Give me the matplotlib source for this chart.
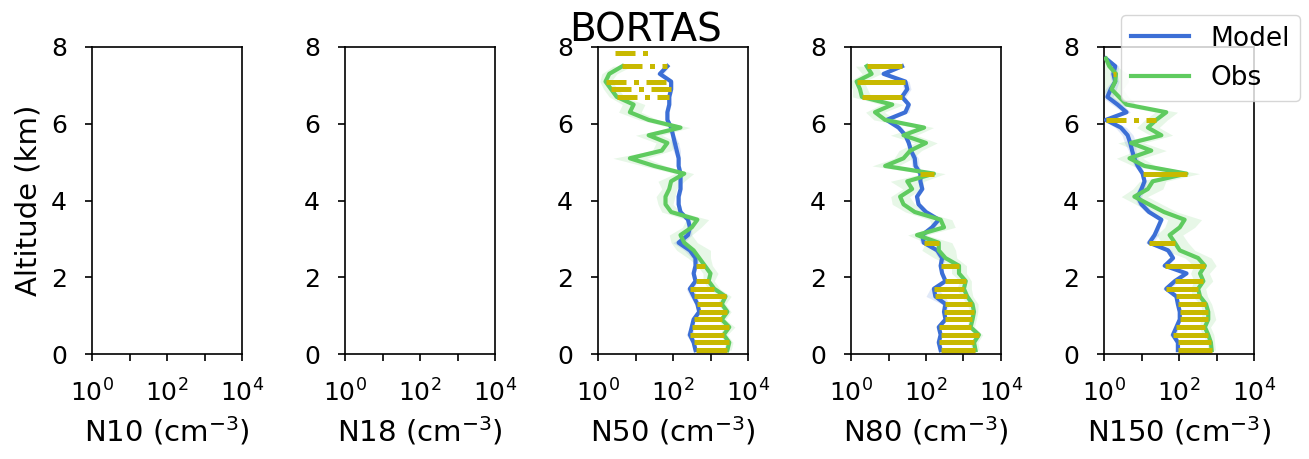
import matplotlib
matplotlib.use("Agg")
import matplotlib.pyplot as plt
from matplotlib.lines import Line2D
import numpy as np

# --------------------------------------------------------------------
# Data (log10 of number concentration, cm-3) on altitude levels (km)
# --------------------------------------------------------------------
alt = [0.1, 0.3, 0.5, 0.7, 0.9, 1.1, 1.3, 1.5, 1.7, 1.9,
       2.1, 2.3, 2.5, 2.7, 2.9, 3.1, 3.3, 3.5, 3.7, 3.9,
       4.1, 4.3, 4.5, 4.7, 4.9, 5.1, 5.3, 5.5, 5.7, 5.9,
       6.1, 6.3, 6.5, 6.7, 6.9, 7.1, 7.3, 7.5, 7.7, 7.9]

panels = ["N10", "N18", "N50", "N80", "N150"]

nan = np.nan

n50_model = [2.60, 2.55, 2.45, 2.50, 2.55, 2.70, 2.65, 2.55, 2.45, 2.60,
             2.55, 2.60, 2.60, 2.45, 2.15, 2.40, 2.45, 2.40, 2.20, 2.15,
             2.15, 2.20, 2.20, 2.20, 2.15, 2.15, 2.10, 2.05, 2.00, 1.95,
             1.85, 1.85, 1.90, 1.90, 1.95, 1.95, 1.65, 1.85, nan, nan]
n50_obs = [3.45, 3.50, 3.35, 3.50, 3.30, 3.45, 3.30, 3.40, 3.10, 2.95,
           3.00, 2.85, 2.70, 2.55, 2.30, 2.20, 2.50, 2.65, 1.95, 1.80,
           1.80, 1.90, 1.95, 2.30, 1.50, 0.85, 1.70, 1.85, 1.35, 2.20,
           1.35, 0.85, 0.95, 0.50, 0.35, 0.20, 0.30, 0.65, nan, nan]
n50_obs_err = [0.10, 0.10, 0.10, 0.15, 0.10, 0.10, 0.10, 0.15, 0.15, 0.15,
               0.20, 0.20, 0.30, 0.45, 0.35, 0.30, 0.25, 0.30, 0.25, 0.20,
               0.25, 0.20, 0.35, 0.25, 0.30, 0.45, 0.25, 0.30, 0.35, 0.25,
               0.25, 0.30, 0.30, 0.20, 0.20, 0.15, 0.20, 0.25, nan, nan]
n50_model_err = [0.05, 0.05, 0.10, 0.05, 0.05, 0.05, 0.05, 0.10, 0.10, 0.05,
                 0.05, 0.05, 0.10, 0.15, 0.15, 0.10, 0.05, 0.05, 0.05, 0.05,
                 0.05, 0.05, 0.05, 0.05, 0.05, 0.05, 0.10, 0.10, 0.05, 0.05,
                 0.05, 0.05, 0.05, 0.05, 0.05, 0.05, 0.10, 0.05, nan, nan]
n50_flag = [0.1, 0.3, 0.5, 0.7, 0.9, 1.1, 1.3, 1.5, 1.7, 1.9, 2.3]
n50_flag_dashed = [6.7, 6.9, 7.1, 7.5]
n50_extra = [(7.85, 0.45, 1.5)]

n80_model = [2.39, 2.34, 2.39, 2.34, 2.52, 2.48, 2.52, 2.25, 2.21, 2.52,
             2.43, 2.39, 2.43, 2.30, 1.94, 1.90, 2.16, 2.34, 2.00, 1.80,
             1.76, 1.90, 1.85, 1.85, 1.72, 1.70, 1.60, 1.54, 1.45, 1.27,
             0.95, 1.45, 1.54, 1.36, 1.50, 1.45, 0.87, 1.36, nan, nan]
n80_obs = [3.32, 3.28, 3.41, 3.19, 3.24, 3.28, 3.24, 3.10, 3.01, 3.06,
           2.88, 2.88, 2.52, 2.34, 2.34, 1.76, 2.48, 2.39, 1.70, 1.40,
           1.31, 1.63, 1.50, 2.21, 0.91, 1.40, 1.58, 2.00, 1.40, 1.95,
           0.91, 0.64, 1.10, 0.29, 0.24, 0.15, 0.55, 0.42, nan, nan]
n80_obs_err = [0.10, 0.10, 0.10, 0.10, 0.10, 0.10, 0.15, 0.15, 0.20, 0.15,
               0.20, 0.20, 0.30, 0.45, 0.35, 0.25, 0.30, 0.30, 0.25, 0.30,
               0.25, 0.25, 0.45, 0.30, 0.35, 0.25, 0.30, 0.30, 0.35, 0.25,
               0.30, 0.25, 0.30, 0.25, 0.20, 0.20, 0.25, 0.30, nan, nan]
n80_model_err = [0.05, 0.05, 0.05, 0.05, 0.05, 0.05, 0.10, 0.25, 0.10, 0.05,
                 0.05, 0.05, 0.10, 0.10, 0.10, 0.10, 0.05, 0.05, 0.05, 0.05,
                 0.05, 0.05, 0.05, 0.05, 0.10, 0.10, 0.05, 0.05, 0.05, 0.10,
                 0.10, 0.10, 0.05, 0.10, 0.10, 0.10, 0.10, 0.10, nan, nan]
n80_flag = [0.1, 0.3, 0.5, 0.7, 0.9, 1.1, 1.3, 1.5, 1.7, 1.9, 2.3, 2.9,
            4.7, 6.7, 7.1, 7.5]
n80_flag_dashed = []
n80_extra = []

n150_model = [1.97, 1.97, 1.84, 1.93, 2.02, 2.02, 1.97, 1.93, 1.66, 1.89,
              2.20, 1.62, 1.84, 1.71, 1.21, 1.35, 1.44, 1.53, 1.20, 1.00,
              0.90, 1.00, 1.08, 1.03, 0.90, 0.81, 0.75, 0.70, 0.63, 0.45,
              0.05, 0.60, 0.36, 0.09, 0.18, 0.30, 0.25, 0.30, 0.05, nan]
n150_obs = [2.87, 2.85, 2.78, 2.69, 2.78, 2.78, 2.72, 2.56, 2.51, 2.65,
            2.56, 2.69, 2.51, 2.02, 1.89, 1.75, 2.02, 2.15, 1.60, 1.20,
            0.81, 1.17, 1.30, 2.20, 1.08, 0.68, 1.26, 0.72, 1.53, 1.17,
            1.39, 1.66, 0.60, 0.40, 0.20, 0.30, 0.32, 0.14, 0.05, nan]
n150_obs_err = [0.10, 0.10, 0.15, 0.15, 0.20, 0.15, 0.15, 0.20, 0.20, 0.25,
                0.25, 0.30, 0.35, 0.40, 0.35, 0.35, 0.40, 0.45, 0.35, 0.35,
                0.35, 0.40, 0.35, 0.35, 0.30, 0.35, 0.40, 0.35, 0.30, 0.30,
                0.30, 0.30, 0.25, 0.25, 0.30, 0.35, 0.30, 0.20, 0.10, nan]
n150_model_err = [0.05, 0.05, 0.10, 0.05, 0.05, 0.05, 0.05, 0.05, 0.10, 0.10,
                  0.05, 0.10, 0.05, 0.10, 0.10, 0.10, 0.05, 0.05, 0.10, 0.10,
                  0.10, 0.10, 0.05, 0.05, 0.10, 0.10, 0.10, 0.15, 0.15, 0.15,
                  0.10, 0.10, 0.15, 0.15, 0.15, 0.10, 0.10, 0.10, 0.05, nan]
n150_flag = [0.1, 0.3, 0.5, 0.7, 0.9, 1.1, 1.3, 1.5, 1.7, 1.9, 2.3, 2.9, 4.7]
n150_flag_dashed = [6.1, 7.3]
n150_extra = []

profiles = {
    "N50": (n50_model, n50_model_err, n50_obs, n50_obs_err,
            n50_flag, n50_flag_dashed, n50_extra),
    "N80": (n80_model, n80_model_err, n80_obs, n80_obs_err,
            n80_flag, n80_flag_dashed, n80_extra),
    "N150": (n150_model, n150_model_err, n150_obs, n150_obs_err,
             n150_flag, n150_flag_dashed, n150_extra),
}

# --------------------------------------------------------------------
# Styles
# --------------------------------------------------------------------
c_model = '#3c6fd6'
c_obs = '#5fcb5f'
c_flag = '#c8b900'
fs_tick = 18
fs_lab = 21
dashdot = (0, (4, 1.5, 1, 1.5))

fig = plt.figure(figsize=(13.09, 4.59), dpi=100)

W, H = 1309.0, 459.0
lefts = [92, 345, 598, 851, 1104]
ax_w, ax_top, ax_bot = 150, 47, 354

z = np.array(alt)
for i, name in enumerate(panels):
    ax = fig.add_axes([lefts[i] / W, 1 - ax_bot / H, ax_w / W, (ax_bot - ax_top) / H])
    if name in profiles:
        mod, mod_err, obs, obs_err, flag, flag_d, extra = profiles[name]
        mod = np.array(mod)
        obs = np.array(obs)
        mod_err = np.array(mod_err)
        obs_err = np.array(obs_err)
        ax.fill_betweenx(z, 10 ** (obs - obs_err), 10 ** (obs + obs_err),
                         color=c_obs, alpha=0.15, lw=0)
        ax.fill_betweenx(z, 10 ** (mod - mod_err), 10 ** (mod + mod_err),
                         color=c_model, alpha=0.15, lw=0)
        ax.plot(10 ** mod, z, color=c_model, lw=3, zorder=3)
        ax.plot(10 ** obs, z, color=c_obs, lw=3, zorder=4)
        for a in flag + flag_d:
            k = alt.index(a)
            lo, hi = sorted([mod[k], obs[k]])
            ls = '-' if a in flag else dashdot
            ax.hlines(a, 10 ** lo, 10 ** hi, colors=c_flag, lw=3.6,
                      linestyles=ls, zorder=5)
        for a, lo, hi in extra:
            ax.hlines(a, 10 ** lo, 10 ** hi, colors=c_flag, lw=3.6,
                      linestyles=dashdot, zorder=5)

    ax.set_xscale('log')
    ax.set_xlim(1, 1e4)
    ax.set_ylim(0, 8)
    ax.set_xticks([1, 10, 100, 1000, 10000])
    ax.set_xticklabels([r'$10^0$', '', r'$10^2$', '', r'$10^4$'])
    ax.xaxis.set_minor_locator(matplotlib.ticker.NullLocator())
    ax.set_yticks([0, 2, 4, 6, 8])
    ax.tick_params(labelsize=fs_tick, width=1.2, length=5)
    ax.tick_params(axis='x', pad=13)
    ax.tick_params(axis='y', pad=13)
    ax.set_xlabel(name + r' (cm$^{-3}$)', fontsize=fs_lab, labelpad=6)
    if i == 0:
        ax.set_ylabel('Altitude (km)', fontsize=fs_lab, labelpad=6)
    for sp in ax.spines.values():
        sp.set_linewidth(1.2)

fig.text(0.493, 0.975, 'BORTAS', ha='center', va='top', fontsize=28)

handles = [Line2D([], [], color=c_model, lw=3),
           Line2D([], [], color=c_obs, lw=3)]
fig.legend(handles, ['Model', 'Obs'], loc='upper right',
           bbox_to_anchor=(0.9935, 0.967), fontsize=19, handlelength=2.2,
           borderaxespad=0.0)

plt.savefig('out.png', dpi=100)
plt.close()
